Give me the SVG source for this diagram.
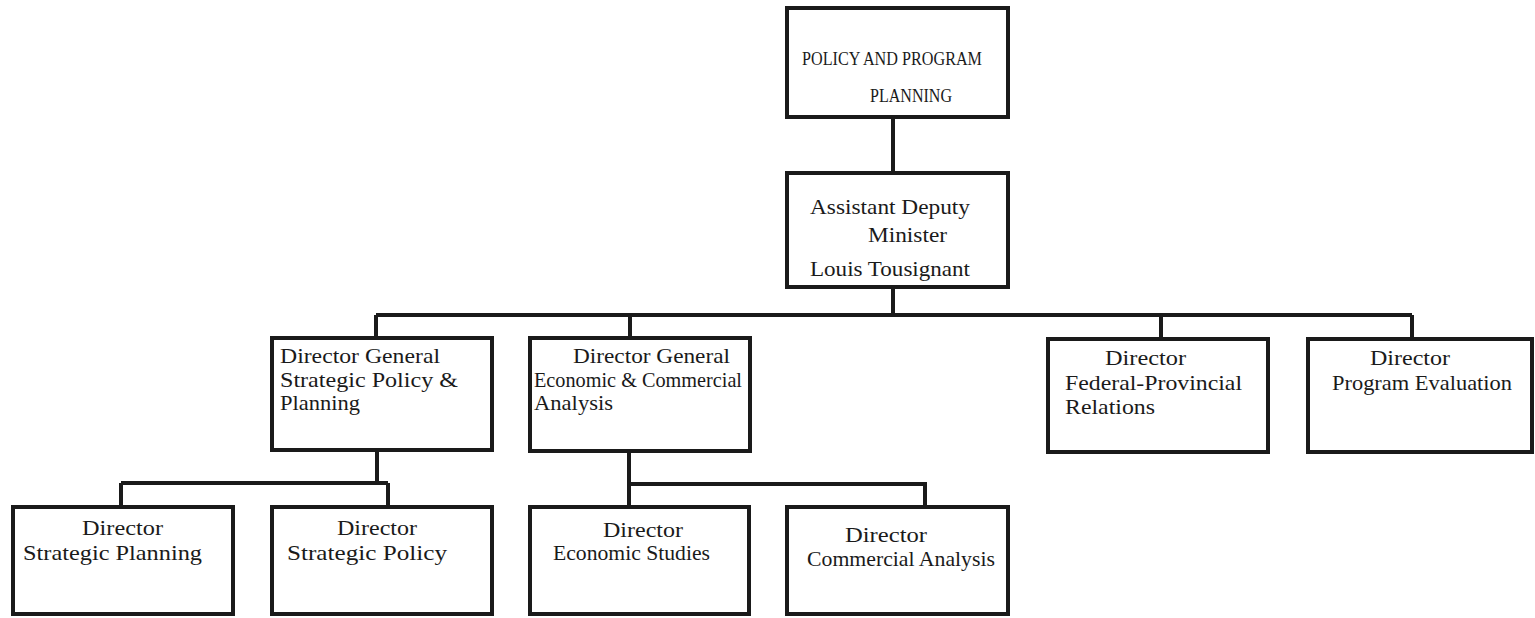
<svg xmlns="http://www.w3.org/2000/svg" width="1535" height="618" viewBox="0 0 1535 618">
<style>
.box{fill:#fff;stroke:#1a1a1a;stroke-width:4}
.ln{fill:none;stroke:#1a1a1a;stroke-width:4;stroke-linejoin:miter}
text{font-family:"Liberation Serif","DejaVu Serif",serif;font-size:21px;fill:#1a1a1a}
.cap{font-size:19px}
</style>
<rect width="1535" height="618" fill="#fff"/>
<g id="connectors">
<path class="ln" d="M893 117V173"/>
<path class="ln" d="M893 287V315M376 315H1412M376 315V338M630 315V338M1161 315V339M1412 315V339"/>
<path class="ln" d="M377 450V483M121 483H388M121 483V507M388 483V507"/>
<path class="ln" d="M629 451V507M629 484H925V507"/>
</g>
<g id="n-policy">
<rect class="box" x="787" y="8" width="221" height="109"/>
<text class="cap" x="802" y="65" textLength="180" lengthAdjust="spacingAndGlyphs">POLICY AND PROGRAM</text>
<text class="cap" x="870" y="102" textLength="82" lengthAdjust="spacingAndGlyphs">PLANNING</text>
</g>
<g id="n-adm">
<rect class="box" x="787" y="173" width="221" height="114"/>
<text x="810" y="214" textLength="160" lengthAdjust="spacingAndGlyphs">Assistant Deputy</text>
<text x="868" y="242" textLength="79" lengthAdjust="spacingAndGlyphs">Minister</text>
<text x="810" y="276" textLength="160" lengthAdjust="spacingAndGlyphs">Louis Tousignant</text>
</g>
<g id="n-dg-spp">
<rect class="box" x="272" y="338" width="220" height="112"/>
<text x="280" y="363" textLength="160" lengthAdjust="spacingAndGlyphs">Director General</text>
<text x="280" y="387" textLength="178" lengthAdjust="spacingAndGlyphs">Strategic Policy &amp;</text>
<text x="280" y="410" textLength="80" lengthAdjust="spacingAndGlyphs">Planning</text>
</g>
<g id="n-dg-eca">
<rect class="box" x="530" y="338" width="220" height="113"/>
<text x="573" y="363" textLength="157" lengthAdjust="spacingAndGlyphs">Director General</text>
<text x="534" y="387" textLength="208" lengthAdjust="spacingAndGlyphs">Economic &amp; Commercial</text>
<text x="534" y="410" textLength="79" lengthAdjust="spacingAndGlyphs">Analysis</text>
</g>
<g id="n-fpr">
<rect class="box" x="1048" y="339" width="220" height="113"/>
<text x="1105" y="365" textLength="81" lengthAdjust="spacingAndGlyphs">Director</text>
<text x="1065" y="390" textLength="177" lengthAdjust="spacingAndGlyphs">Federal-Provincial</text>
<text x="1065" y="414" textLength="90" lengthAdjust="spacingAndGlyphs">Relations</text>
</g>
<g id="n-pe">
<rect class="box" x="1308" y="339" width="224" height="113"/>
<text x="1370" y="365" textLength="80" lengthAdjust="spacingAndGlyphs">Director</text>
<text x="1332" y="390" textLength="180" lengthAdjust="spacingAndGlyphs">Program Evaluation</text>
</g>
<g id="n-sp">
<rect class="box" x="13" y="507" width="220" height="107"/>
<text x="82" y="535" textLength="81" lengthAdjust="spacingAndGlyphs">Director</text>
<text x="23" y="560" textLength="179" lengthAdjust="spacingAndGlyphs">Strategic Planning</text>
</g>
<g id="n-spol">
<rect class="box" x="272" y="507" width="220" height="107"/>
<text x="337" y="535" textLength="80" lengthAdjust="spacingAndGlyphs">Director</text>
<text x="287" y="560" textLength="160" lengthAdjust="spacingAndGlyphs">Strategic Policy</text>
</g>
<g id="n-es">
<rect class="box" x="530" y="507" width="219" height="107"/>
<text x="603" y="537" textLength="80" lengthAdjust="spacingAndGlyphs">Director</text>
<text x="553" y="560" textLength="157" lengthAdjust="spacingAndGlyphs">Economic Studies</text>
</g>
<g id="n-ca">
<rect class="box" x="787" y="507" width="221" height="107"/>
<text x="845" y="542" textLength="82" lengthAdjust="spacingAndGlyphs">Director</text>
<text x="807" y="566" textLength="188" lengthAdjust="spacingAndGlyphs">Commercial Analysis</text>
</g>
</svg>
